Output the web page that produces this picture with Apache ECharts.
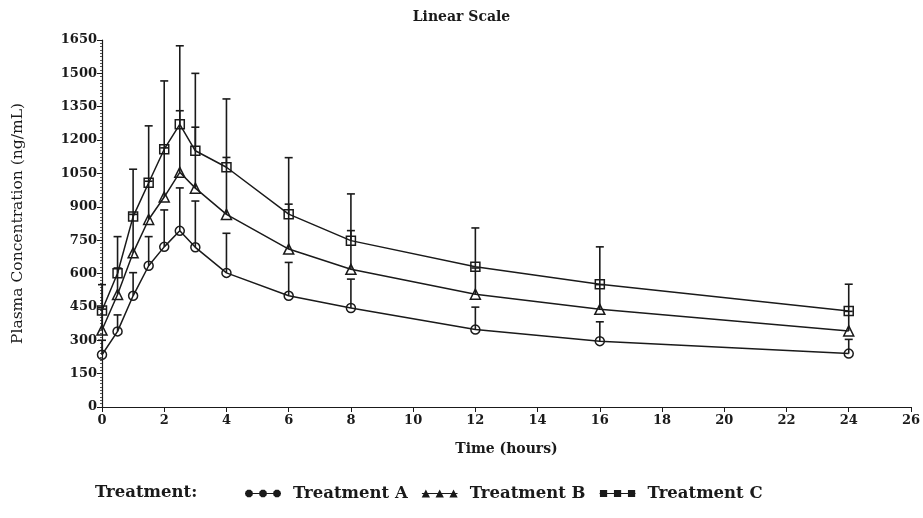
<!DOCTYPE html>
<html>
<head>
<meta charset="utf-8">
<script src="https://cdn.jsdelivr.net/npm/echarts@6/dist/echarts.min.js"></script>
<style>
  html, body { margin: 0; padding: 0; background: #fff; }
  #chart { width: 923px; height: 518px; }
</style>
</head>
<body>
<div id="chart"></div>
<script>
// sampling times (hours)
const times = [0, 0.5, 1, 1.5, 2, 2.5, 3, 4, 6, 8, 12, 16, 24];
// mean plasma concentration (ng/mL)
const meanA = [235, 340, 500, 635, 720, 792, 718, 603, 500, 445, 348, 296, 240];
const meanB = [346, 506, 693, 843, 944, 1055, 984, 866, 710, 619, 507, 439, 342];
const meanC = [434, 601, 856, 1008, 1159, 1271, 1152, 1078, 867, 748, 631, 552, 432];
// mean + SD (top of the error bars)
const upperA = [300, 414, 604, 766, 886, 985, 926, 781, 650, 575, 449, 383, 304];
const upperB = [440, 625, 866, 1015, 1165, 1332, 1258, 1122, 912, 793, 625, 550, 430];
const upperC = [550, 766, 1069, 1264, 1466, 1624, 1500, 1385, 1121, 958, 805, 720, 552];

const seriesNames = ['Treatment A', 'Treatment B', 'Treatment C'];
const symbols = ['circle', 'triangle', 'rect'];

const INK = '#1a1a1a';
const FONT = '"DejaVu Serif", serif';

// legend icons: three markers joined by a line
function octagon(cx) {
  const a = 1.55, b = 3.7;
  return `M${cx - a},0.3 L${cx + a},0.3 L${cx + b},2.3 L${cx + b},5.7 L${cx + a},7.7 L${cx - a},7.7 L${cx - b},5.7 L${cx - b},2.3 Z`;
}
function tri(cx) { return `M${cx},0 L${cx + 4.2},8 L${cx - 4.2},8 Z`; }
function sq(cx) { return `M${cx - 3.6},0.4 L${cx + 3.6},0.4 L${cx + 3.6},7.6 L${cx - 3.6},7.6 Z`; }
const bar = 'M0,3.4 L36,3.4 L36,4.6 L0,4.6 Z';
const icons = [
  'path://' + bar + octagon(4) + octagon(18) + octagon(32),
  'path://' + bar + tri(4) + tri(18) + tri(32),
  'path://' + bar + sq(4) + sq(18) + sq(32)
];

const means = [meanA, meanB, meanC];
const uppers = [upperA, upperB, upperC];

function errorBar(params, api) {
  const p1 = api.coord([api.value(0), api.value(1)]);
  const p2 = api.coord([api.value(0), api.value(2)]);
  const st = { stroke: INK, lineWidth: 1.6 };
  return {
    type: 'group',
    children: [
      { type: 'line', shape: { x1: p1[0], y1: p1[1], x2: p2[0], y2: p2[1] }, style: st },
      { type: 'line', shape: { x1: p2[0] - 4, y1: p2[1], x2: p2[0] + 4, y2: p2[1] }, style: st }
    ]
  };
}

const series = [];
means.forEach((m, k) => {
  series.push({
    name: seriesNames[k] + ' SD',
    type: 'custom',
    renderItem: errorBar,
    encode: { x: 0, y: [1, 2] },
    data: times.map((t, i) => [t, m[i], uppers[k][i]]),
    silent: true,
    z: 1
  });
  series.push({
    name: seriesNames[k],
    type: 'line',
    data: times.map((t, i) => [t, m[i]]),
    symbol: symbols[k],
    symbolSize: k === 1 ? 10 : 9,
    showAllSymbol: true,
    lineStyle: { color: INK, width: 1.5 },
    itemStyle: { color: 'rgba(255,255,255,0)', borderColor: INK, borderWidth: 1.5 },
    emphasis: { disabled: true },
    z: 2
  });
});

const chart = echarts.init(document.getElementById('chart'));
chart.setOption({
  animation: false,
  backgroundColor: '#fff',
  title: {
    text: 'Linear Scale',
    left: 'center',
    top: 5,
    textStyle: { fontFamily: FONT, fontWeight: 'bold', fontSize: 14, color: INK }
  },
  grid: { left: 102, right: 12, top: 40, bottom: 111 },
  xAxis: {
    type: 'value',
    min: 0,
    max: 26,
    interval: 2,
    name: 'Time (hours)',
    nameLocation: 'middle',
    nameGap: 35,
    nameTextStyle: { fontFamily: FONT, fontWeight: 'bold', fontSize: 14, color: INK },
    axisLine: { lineStyle: { color: INK, width: 1.2 } },
    axisTick: { length: 5, lineStyle: { color: INK } },
    axisLabel: { fontFamily: FONT, fontWeight: 'bold', fontSize: 13, color: INK, margin: 7 },
    splitLine: { show: false }
  },
  yAxis: {
    type: 'value',
    min: 0,
    max: 1650,
    interval: 150,
    name: 'Plasma Concentration (ng/mL)',
    nameLocation: 'middle',
    nameGap: 76,
    nameTextStyle: { fontFamily: FONT, fontSize: 15.5, color: INK },
    axisLine: { show: true, lineStyle: { color: INK, width: 1.2 } },
    axisTick: { show: true, length: 5, lineStyle: { color: INK } },
    minorTick: { show: true, splitNumber: 10, length: 2, lineStyle: { color: '#555' } },
    axisLabel: {
      fontFamily: FONT, fontWeight: 'bold', fontSize: 13, color: INK, margin: 5,
      formatter: v => String(v)
    },
    splitLine: { show: false }
  },
  legend: {
    left: 240,
    top: 480,
    itemWidth: 36,
    itemHeight: 8,
    itemGap: 14,
    selectedMode: false,
    data: seriesNames.map((n, k) => ({ name: n, icon: icons[k], itemStyle: { color: INK, borderWidth: 0 } })),
    textStyle: { fontFamily: FONT, fontWeight: 'bold', fontSize: 16.5, color: INK, padding: [0, 0, 0, 7] }
  },
  graphic: [{
    type: 'text',
    x: 95,
    y: 493,
    style: { text: 'Treatment:', font: 'bold 16.5px "DejaVu Serif", serif', fill: INK, verticalAlign: 'middle' }
  }],
  series: series
});
</script>
</body>
</html>
